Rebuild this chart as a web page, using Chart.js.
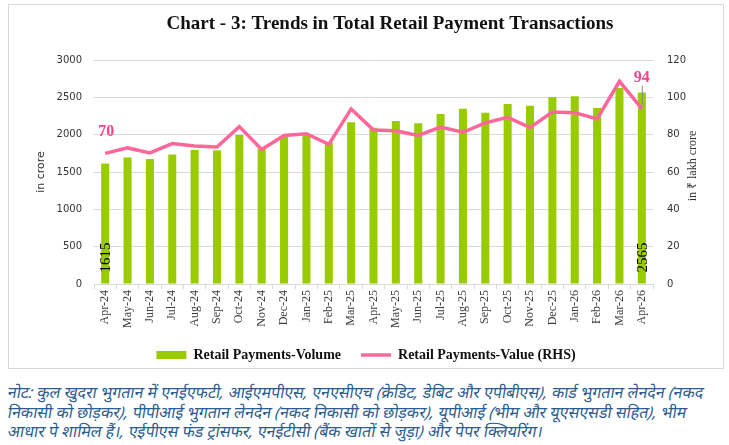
<!DOCTYPE html>
<html>
<head>
<meta charset="utf-8">
<script src="https://cdn.jsdelivr.net/npm/chart.js@4.4.1/dist/chart.umd.min.js"></script>
<style>
  body { margin: 0; background: #fff; }
  #box { position: absolute; left: 8px; top: 4px; width: 714px; height: 363px; border: 1px solid #d9d9d9; }
  #note { position: absolute; left: 8px; top: 383px; width: 724px; font-family: "Noto Sans", sans-serif; font-style: italic;
          font-size: 16px; line-height: 19.5px; color: #2b5c8f; white-space: nowrap; }
  #note div { transform: skewX(-10deg); transform-origin: 0 50%; }
</style>
</head>
<body>
<div id="box"><canvas id="chart" width="714" height="363"></canvas></div>
<div id="note">
  <div>नोट: कुल खुदरा भुगतान में एनईएफटी, आईएमपीएस, एनएसीएच (क्रेडिट, डेबिट और एपीबीएस), कार्ड भुगतान लेनदेन (नकद</div>
  <div>निकासी को छोड़कर), पीपीआई भुगतान लेनदेन (नकद निकासी को छोड़कर), यूपीआई (भीम और यूएसएसडी सहित), भीम</div>
  <div>आधार पे शामिल हैं।, एईपीएस फंड ट्रांसफर, एनईटीसी (बैंक खातों से जुड़ा) और पेपर क्लियरिंग।</div>
</div>
<script>
var months = ['Apr-24', 'May-24', 'Jun-24', 'Jul-24', 'Aug-24', 'Sep-24', 'Oct-24', 'Nov-24', 'Dec-24',
	'Jan-25', 'Feb-25', 'Mar-25', 'Apr-25', 'May-25', 'Jun-25', 'Jul-25', 'Aug-25', 'Sep-25', 'Oct-25',
	'Nov-25', 'Dec-25', 'Jan-26', 'Feb-26', 'Mar-26', 'Apr-26'];

// volume, in crore (left axis)
var volume = [1615, 1695, 1675, 1736, 1795, 1790, 1995, 1810, 1982, 1990, 1897, 2165, 2094,
	2183, 2152, 2277, 2348, 2295, 2411, 2388, 2504, 2513, 2357, 2625, 2565];

// value, in lakh crore (right axis)
var value = [70, 72.9, 70.2, 75.2, 73.9, 73.4, 84.3, 72.1, 79.6, 80.5, 74.8, 93.8, 82.5,
	82.1, 79.6, 84.1, 81.3, 86.3, 89.3, 83.8, 92.1, 91.8, 88.4, 108.6, 94];

var leftTicks = [0, 500, 1000, 1500, 2000, 2500, 3000];
var rightTicks = [0, 20, 40, 60, 80, 100, 120];

var chartTitle = 'Chart - 3: Trends in Total Retail Payment Transactions';

var serif = '"Liberation Serif", "Times New Roman", serif';
var sans = '"DejaVu Sans", Verdana, sans-serif';

// title, labels on first/last bar and point, right axis title
var extrasPlugin = {
	id: 'extras',
	afterDatasetsDraw: function(chart) {
		var ctx = chart.ctx;
		var bars = chart.getDatasetMeta(0).data;
		var pts = chart.getDatasetMeta(1).data;
		var last = bars.length - 1;

		ctx.save();
		ctx.fillStyle = '#111';
		ctx.font = 'bold 19px ' + serif;
		ctx.textAlign = 'center';
		ctx.textBaseline = 'middle';
		ctx.fillText(chartTitle, 381, 19);

		ctx.fillStyle = '#000';
		ctx.font = '15px ' + serif;
		ctx.textAlign = 'left';
		[0, last].forEach(function(i) {
			var b = bars[i];
			ctx.save();
			ctx.translate(b.x + 1, b.base - 11);
			ctx.rotate(-Math.PI / 2);
			ctx.fillText(String(volume[i]), 0, 0);
			ctx.restore();
		});

		ctx.fillStyle = '#f5448c';
		ctx.font = 'bold 16px ' + serif;
		ctx.textAlign = 'center';
		ctx.fillText(String(value[0]), pts[0].x + 1, pts[0].y - 21);
		ctx.fillText(String(value[last]), pts[last].x, pts[last].y - 31);

		ctx.strokeStyle = '#8c8c8c';
		ctx.lineWidth = 1;
		ctx.beginPath();
		ctx.moveTo(pts[last].x + 0.5, pts[last].y - 23);
		ctx.lineTo(pts[last].x + 0.5, pts[last].y - 3);
		ctx.stroke();

		var y1 = chart.scales.y1;
		ctx.fillStyle = '#333';
		ctx.font = '12px ' + serif;
		ctx.save();
		ctx.translate(y1.right - 30, (y1.top + y1.bottom) / 2 - 6);
		ctx.rotate(-Math.PI / 2);
		ctx.fillText('in ₹ lakh crore', 0, 0);
		ctx.restore();
		ctx.restore();
	}
};

var chart = new Chart(document.getElementById('chart'), {
	type: 'bar',
	data: {
		labels: months,
		datasets: [
			{
				label: 'Retail Payments-Volume',
				data: volume,
				backgroundColor: '#99cc00',
				borderWidth: 0,
				barPercentage: 0.4,
				categoryPercentage: 0.9,
				pointStyle: 'rect',
				yAxisID: 'y',
				order: 2
			},
			{
				type: 'line',
				label: 'Retail Payments-Value (RHS)',
				data: value,
				borderColor: '#ff6699',
				backgroundColor: '#ff6699',
				borderWidth: 3.5,
				pointRadius: 0,
				pointStyle: 'line',
				tension: 0,
				yAxisID: 'y1',
				order: 1
			}
		]
	},
	options: {
		responsive: false,
		animation: false,
		layout: { padding: { top: 55, bottom: -4 } },
		plugins: {
			tooltip: { enabled: false },
			title: { display: false },
			legend: {
				position: 'bottom',
				labels: {
					usePointStyle: true,
					pointStyleWidth: 30,
					boxHeight: 8,
					padding: 20,
					color: '#111',
					font: { family: serif, size: 14, weight: 'bold' },
					sort: function(a, b) { return a.datasetIndex - b.datasetIndex; }
				}
			}
		},
		scales: {
			x: {
				grid: { drawOnChartArea: false, drawTicks: true, tickLength: 5, color: '#d9d9d9', offset: true },
				border: { color: '#d9d9d9' },
				ticks: { minRotation: 90, maxRotation: 90, padding: 1, color: '#404040', font: { family: serif, size: 12 } },
				afterFit: function(s) { s.height = 44; }
			},
			y: {
				position: 'left',
				min: 0,
				max: 3000,
				afterBuildTicks: function(s) { s.ticks = leftTicks.map(function(v) { return { value: v }; }); },
				grid: { color: '#d9d9d9', drawTicks: false },
				border: { display: false },
				ticks: { padding: 12, color: '#333', font: { family: sans, size: 10 }, callback: function(v) { return String(v); } },
				title: { display: true, text: 'in crore', color: '#333', font: { family: sans, size: 11 }, padding: { top: 26, bottom: 0 } },
				afterFit: function(s) { s.width = 85; }
			},
			y1: {
				position: 'right',
				min: 0,
				max: 120,
				afterBuildTicks: function(s) { s.ticks = rightTicks.map(function(v) { return { value: v }; }); },
				grid: { drawOnChartArea: false, drawTicks: false },
				border: { display: false },
				ticks: { padding: 14, color: '#333', font: { family: sans, size: 10 }, callback: function(v) { return String(v); } },
				afterFit: function(s) { s.width = 70; }
			}
		}
	},
	plugins: [extrasPlugin]
});
</script>
</body>
</html>
